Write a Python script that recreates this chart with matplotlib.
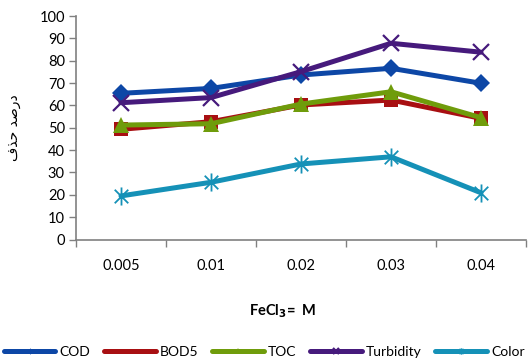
import matplotlib
matplotlib.use("Agg")
import matplotlib.pyplot as plt
from matplotlib.path import Path

categories = ["0.005", "0.01", "0.02", "0.03", "0.04"]
cod = [65.4, 67.6, 73.6, 76.6, 69.9]
bod5 = [49.3, 52.7, 60.2, 62.4, 54.2]
toc = [51.2, 51.8, 60.6, 66.1, 54.5]
turbidity = [61.2, 63.5, 75.1, 87.8, 83.8]
color = [19.5, 25.6, 33.8, 37.0, 20.9]
yticks = [0, 10, 20, 30, 40, 50, 60, 70, 80, 90, 100]

plt.rcParams['font.family'] = ['Lato', 'DejaVu Sans']

star = Path([(0, -1), (0, 1), (-0.75, -0.75), (0.75, 0.75), (-0.75, 0.75), (0.75, -0.75)],
            [Path.MOVETO, Path.LINETO, Path.MOVETO, Path.LINETO, Path.MOVETO, Path.LINETO])

fig = plt.figure(figsize=(5.29, 3.62), dpi=100)
ax = fig.add_axes([76/529, 1-239.5/362, (526-76)/529, (239.5-16)/362])

x = list(range(len(categories)))
series = [
    ("COD", cod, "#0D47A6", dict(marker="D", markersize=9, markeredgewidth=0)),
    ("BOD5", bod5, "#A80F12", dict(marker="s", markersize=10, markeredgewidth=0)),
    ("TOC", toc, "#6F9C0B", dict(marker="^", markersize=11, markeredgewidth=0)),
    ("Turbidity", turbidity, "#461A7C", dict(marker="x", markersize=11, markeredgewidth=1.6)),
    ("Color", color, "#1591B7", dict(marker=star, markersize=13, markeredgewidth=1.3, markerfacecolor="none")),
]
handles = []
for name, vals, c, mk in series:
    h, = ax.plot(x, vals, color=c, linewidth=3.6, label=name, markeredgecolor=c,
                 **({"markerfacecolor": c} | mk), solid_capstyle="round", zorder=3)
    handles.append(h)

ax.set_xlim(-0.5, 4.5)
ax.set_ylim(0, 100)
ax.set_yticks(yticks)
ax.set_yticklabels([str(v) for v in yticks], fontsize=10.5)
ax.set_xticks([i - 0.5 for i in range(len(categories) + 1)], minor=False)
ax.set_xticklabels([])
ax.set_xticks(x, minor=True)
ax.set_xticklabels(categories, minor=True, fontsize=10.5)
ax.tick_params(axis="x", which="minor", length=0, pad=14)
ax.tick_params(axis="x", which="major", length=5, direction="out", color="#808080", width=1)
ax.tick_params(axis="y", length=5, direction="out", color="#808080", width=1, pad=3)
for s in ["top", "right"]:
    ax.spines[s].set_visible(False)
for s in ["left", "bottom"]:
    ax.spines[s].set_color("#808080")
    ax.spines[s].set_linewidth(1.2)

ylabel = "\uFED1\uFEAC\uFEA3 \uFEAA\uFEBB\uFEAD\uFEA9"
fig.text(14/529, 1-128/362, ylabel, rotation=90, ha="center", va="center",
         fontsize=10, family=["DejaVu Sans"])

fig.text(283/529, 1-311/362, r"FeCl$_{\mathbf{3}}$=  M", ha="center", va="center",
         fontsize=10.5, fontweight="bold")

leg = fig.legend(handles=handles, loc="center left", bbox_to_anchor=(4/529, 1-352/362),
                 ncol=5, frameon=False, fontsize=10, handlelength=3.7, handletextpad=0.3,
                 columnspacing=1.0, markerscale=0.35, borderaxespad=0, borderpad=0)

fig.savefig("out.png", dpi=100)
